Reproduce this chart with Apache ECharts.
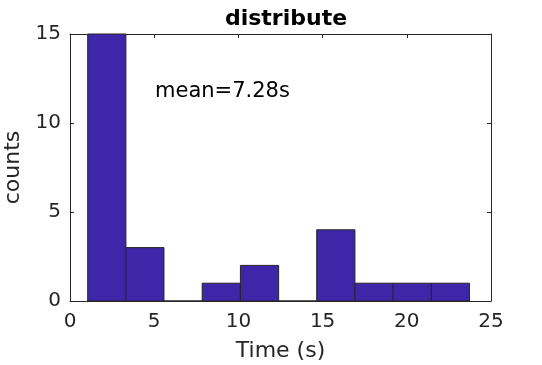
<!DOCTYPE html>
<html>
<head>
<meta charset="utf-8">
<script src="https://cdn.jsdelivr.net/npm/echarts@6/dist/echarts.min.js"></script>
<style>html,body{margin:0;padding:0;background:#fff;}#c{width:542px;height:365px;}</style>
</head>
<body>
<div id="c"></div>
<script>
const binEdges = [1.05, 3.32, 5.58, 7.85, 10.12, 12.39, 14.65, 16.92, 19.19, 21.46, 23.72];
const counts = [15, 3, 0, 1, 2, 0, 4, 1, 1, 1];
const xTicks = [0, 5, 10, 15, 20, 25];
const yTicks = [0, 5, 10, 15];
const titleText = 'distribute';
const annotation = 'mean=7.28s';

const data = counts.map((c, i) => [binEdges[i], binEdges[i + 1], c]);
const font = 'DejaVu Sans';
const txt = '#262626';
const chart = echarts.init(document.getElementById('c'), null, {renderer: 'canvas'});
const axisCommon = {
  axisLine: {show: true, onZero: false, lineStyle: {color: txt, width: 1}},
  axisTick: {show: true, inside: true, length: 4, lineStyle: {color: txt}},
  splitLine: {show: false}
};
chart.setOption({
  animation: false,
  title: {text: titleText, left: 281, top: 3, textAlign: 'center',
    textStyle: {fontFamily: font, fontWeight: 'bold', fontSize: 22, color: '#000'}},
  grid: {left: 70, top: 34, width: 421, height: 267, containLabel: false, outerBoundsMode: 'none'},
  xAxis: [
    Object.assign({type: 'value', min: xTicks[0], max: xTicks[xTicks.length - 1], interval: 5, position: 'bottom',
      name: 'Time (s)', nameLocation: 'middle', nameGap: 39,
      nameTextStyle: {fontFamily: font, fontSize: 22, color: txt},
      axisLabel: {fontFamily: font, fontSize: 20, color: txt, margin: 11}}, axisCommon),
    Object.assign({type: 'value', min: xTicks[0], max: xTicks[xTicks.length - 1], interval: 5, position: 'top',
      axisLabel: {show: false}}, axisCommon)
  ],
  yAxis: [
    Object.assign({type: 'value', min: yTicks[0], max: yTicks[yTicks.length - 1], interval: 5, position: 'left',
      name: 'counts', nameLocation: 'middle', nameGap: 39,
      nameTextStyle: {fontFamily: font, fontSize: 22, color: txt},
      axisLabel: {fontFamily: font, fontSize: 20, color: txt, margin: 9}}, axisCommon),
    Object.assign({type: 'value', min: yTicks[0], max: yTicks[yTicks.length - 1], interval: 5, position: 'right',
      axisLabel: {show: false}}, axisCommon)
  ],
  graphic: [{
    type: 'text', left: 155, top: 81,
    style: {text: annotation, fontFamily: font, fontSize: 21, fill: '#000'}
  }],
  series: [{
    type: 'custom',
    xAxisIndex: 0, yAxisIndex: 0,
    data: data,
    encode: {x: [0, 1], y: 2},
    renderItem: function (params, api) {
      const p0 = api.coord([api.value(0), api.value(2)]);
      const p1 = api.coord([api.value(1), 0]);
      return {
        type: 'rect',
        shape: {x: p0[0], y: p0[1], width: p1[0] - p0[0], height: p1[1] - p0[1]},
        style: {fill: '#3E26A8', stroke: '#262626', lineWidth: 1}
      };
    }
  }]
});
</script>
</body>
</html>
